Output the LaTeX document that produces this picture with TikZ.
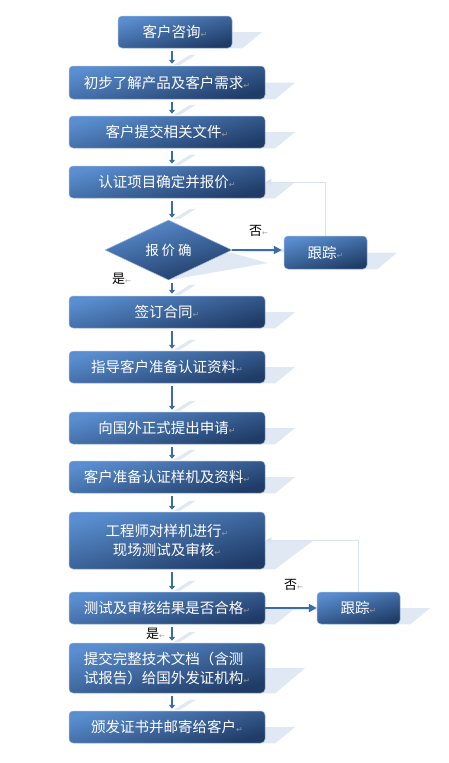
\documentclass[tikz,border=0pt]{standalone}
\usepackage{fontspec}
\newfontfamily\cjk{Noto Sans CJK SC}
\newfontfamily\dvs{DejaVu Sans}
\usetikzlibrary{arrows.meta,shapes.geometric,calc}
\pgfdeclarelayer{background}
\pgfsetlayers{background,main}
\definecolor{btop}{HTML}{5A8ED0}
\definecolor{bbot}{HTML}{1F3B66}
\definecolor{arr}{HTML}{3A6BAA}
\definecolor{shd}{HTML}{E0E8F3}
\definecolor{fbc}{HTML}{DCE2EB}
\definecolor{brd}{HTML}{9DB8DC}
\newcommand{\parmark}{{\dvs\fontsize{8}{8}\selectfont\textcolor{gray!80}{↵}}}
\newcommand{\lblmark}{{\dvs\fontsize{7}{7}\selectfont\textcolor{gray!80}{←}}}
\tikzset{
  flowbox/.style={rectangle, rounded corners=4pt, minimum width=196pt, minimum height=32pt,
    inner sep=0pt, text=white, font=\cjk\fontsize{14.5}{19}\selectfont,
    top color=btop, bottom color=bbot, shading angle=15, draw=brd, line width=0.5pt, align=center},
  flowdia/.style={diamond, minimum width=127pt, minimum height=60pt, inner sep=0pt,
    text=white, font=\cjk\fontsize{13.5}{16}\selectfont,
    top color=btop, bottom color=bbot, shading angle=15, draw=brd, line width=0.5pt},
  varrow/.style={draw=arr, line width=2.4pt, -{Triangle[length=4pt,width=6pt]}, shorten <=3pt, shorten >=2pt},
  harrow/.style={draw=arr, line width=2.6pt, -{Triangle[length=8pt,width=8pt]}},
  fbline/.style={draw=fbc, line width=1pt, -{Triangle[length=6pt,width=6pt]}},
  yesno/.style={font=\cjk\fontsize{13}{15}\selectfont, text=black, inner sep=0pt, anchor=west},
  shadowc/.style={fill=shd},
}
\begin{document}
\begin{tikzpicture}[x=1pt,y=-1pt]
\useasboundingbox (0,0) rectangle (448,763);
\coordinate (colx) at (172,0);
% nodes
\node[flowbox, minimum width=114pt] (b1) at (175,32) {客户咨询\parmark};
\node[flowbox, minimum height=33pt] (b2) at (167,82.5) {初步了解产品及客户需求\parmark};
\node[flowbox] (b3) at (167,132) {客户提交相关文件\parmark};
\node[flowbox] (b4) at (167,182) {认证项目确定并报价\parmark};
\node[flowdia] (d1) at (168.5,250) {报\hspace{3pt}价\hspace{3pt}确};
\node[flowbox, minimum width=83pt, minimum height=33pt] (t1) at (325.5,252.5) {跟踪\parmark};
\node[flowbox] (b7) at (167,312) {签订合同\parmark};
\node[flowbox] (b8) at (167,367) {指导客户准备认证资料\parmark};
\node[flowbox] (b9) at (167,428) {向国外正式提出申请\parmark};
\node[flowbox] (b10) at (167,477) {客户准备认证样机及资料\parmark};
\node[flowbox, minimum height=57pt] (b11) at (167,540.5) {工程师对样机进行\parmark\\现场测试及审核\parmark};
\node[flowbox] (b12) at (167,608) {测试及审核结果是否合格\parmark};
\node[flowbox, minimum width=83pt] (t2) at (358.5,608) {跟踪\parmark};
\node[flowbox, minimum height=50pt, align=left] (b14) at (167,668) {提交完整技术文档（含测\\试报告）给国外发证机构\parmark};
\node[flowbox] (b15) at (167,727) {颁发证书并邮寄给客户\parmark};
% labels
\node[yesno] (no1) at (249,231) {否\lblmark};
\node[yesno] (yes1) at (112,279) {是\lblmark};
\node[yesno] (no2) at (284,585) {否\lblmark};
\node[yesno] (yes2) at (146,634) {是\lblmark};
% shadows
\begin{pgfonlayer}{background}
\foreach \n/\k in {b1/30,b2/30,b3/30,b4/30,t1/30,b7/30,b8/30,b9/30,b10/30,b11/48,b12/30,t2/30,b14/40,b15/30}{
  \fill[shadowc] ($(\n.south west)+(10,0)$) -- ($(\n.south east)+(10,0)$) -- ($(\n.east)+(\k,0)$) -- ($(\n.west)+(\k,0)$) -- cycle;
}
\fill[shadowc] (d1.south) -- (268,263) -- ($(d1.east)+(0,3)$) -- (d1.center) -- cycle;
\foreach \a/\b in {b1/b2,b2/b3,b3/b4,b4/d1,d1/b7,b7/b8,b8/b9,b9/b10,b10/b11,b11/b12,b12/b14,b14/b15}{
  \fill[shadowc] ($(\b.north -| colx)+(2,-1)$) -- ++(6,0) -- ++(16,-10) -- ++(-6,0) -- cycle;
}
\fill[shadowc] ($(d1.east)+(2,2)$) -- ($(d1.east -| t1.west)+(0,2)$) -- ($(d1.east -| t1.west)+(8,-2)$) -- cycle;
\fill[shadowc] ($(b12.east)+(2,2)$) -- ($(b12.east -| t2.west)+(0,2)$) -- ($(b12.east -| t2.west)+(8,-2)$) -- cycle;
\end{pgfonlayer}
% vertical arrows
\foreach \a/\b in {b1/b2,b2/b3,b3/b4,b4/d1,d1/b7,b7/b8,b8/b9,b9/b10,b10/b11,b11/b12,b12/b14,b14/b15}{
  \draw[varrow] (\a.south -| colx) -- (\b.north -| colx);
}
% horizontal arrows
\draw[harrow] (d1.east) -- ($(d1.east -| t1.west)+(-2,0)$);
\draw[harrow] (b12.east) -- (b12.east -| t2.west);
% feedback lines
\draw[fbline] (t1.north) |- (b4.east);
\draw[fbline] (t2.north) |- (b11.east);
\end{tikzpicture}
\end{document}
